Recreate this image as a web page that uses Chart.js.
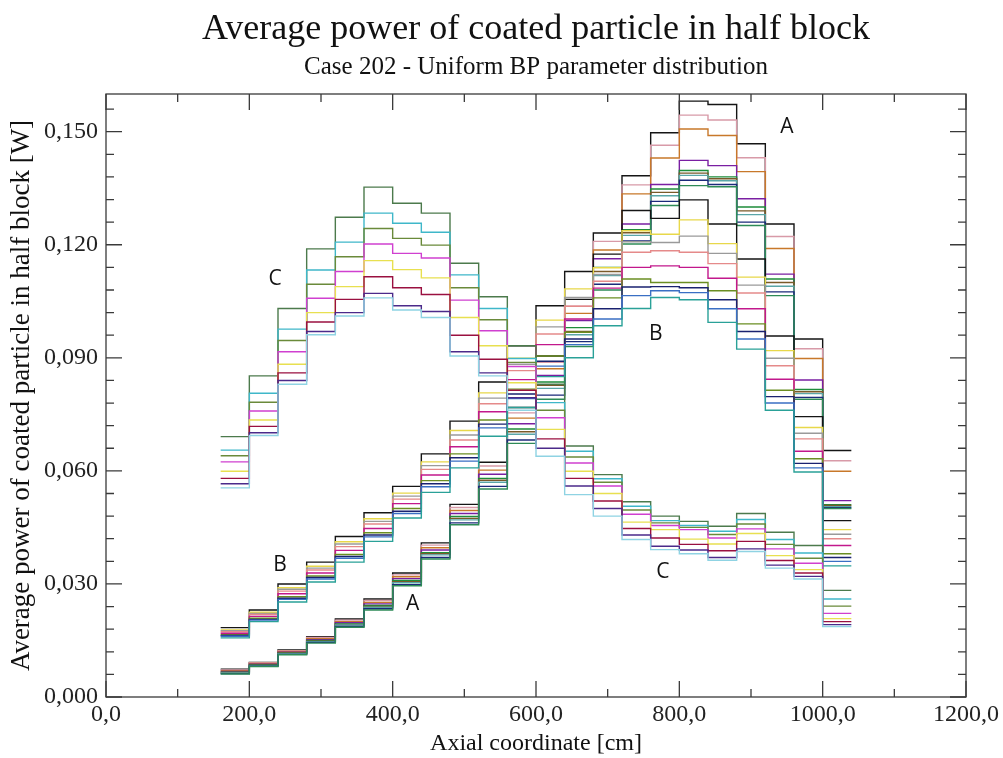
<!DOCTYPE html>
<html>
<head>
<meta charset="utf-8">
<title>Average power of coated particle in half block</title>
<script src="https://cdn.jsdelivr.net/npm/chart.js@4.4.1/dist/chart.umd.min.js"></script>
<style>
  html, body { margin: 0; padding: 0; background: #fff; }
  #wrap { width: 1003px; height: 758px; }
</style>
</head>
<body>
<div id="wrap"><canvas id="chart" width="1003" height="758"></canvas></div>
<script>
// axial bins [cm], 40 cm wide, last one closes at binEnd
var binStart = [160, 200, 240, 280, 320, 360, 400, 440, 480, 520, 560, 600, 640, 680, 720, 760, 800, 840, 880, 920, 960, 1000];
var binEnd = 1040;

// group A - low at the bottom, peaks near 820 cm
var a1 = [0.0074, 0.0092, 0.0125, 0.0160, 0.0207, 0.0260, 0.0329, 0.0409, 0.0511, 0.0623, 0.0768, 0.0905, 0.1055, 0.1231, 0.1383, 0.1497, 0.1581, 0.1572, 0.1468, 0.1255, 0.0950, 0.0654];
var a8 = [0.0072, 0.0091, 0.0123, 0.0158, 0.0204, 0.0256, 0.0324, 0.0403, 0.0503, 0.0613, 0.0754, 0.0888, 0.1037, 0.1209, 0.1359, 0.1464, 0.1544, 0.1531, 0.1431, 0.1222, 0.0924, 0.0627];
var a2 = [0.0070, 0.0089, 0.0121, 0.0155, 0.0200, 0.0251, 0.0319, 0.0396, 0.0495, 0.0602, 0.0740, 0.0871, 0.1018, 0.1186, 0.1335, 0.1430, 0.1507, 0.1490, 0.1394, 0.1190, 0.0898, 0.0599];
var a3 = [0.0068, 0.0087, 0.0119, 0.0152, 0.0197, 0.0247, 0.0314, 0.0390, 0.0487, 0.0591, 0.0725, 0.0853, 0.0999, 0.1163, 0.1255, 0.1360, 0.1424, 0.1410, 0.1322, 0.1122, 0.0841, 0.0521];
var a4 = [0.0066, 0.0085, 0.0117, 0.0150, 0.0194, 0.0243, 0.0309, 0.0383, 0.0479, 0.0580, 0.0711, 0.0836, 0.0980, 0.1140, 0.1240, 0.1348, 0.1397, 0.1380, 0.1300, 0.1109, 0.0816, 0.0510];
var a9 = [0.0065, 0.0084, 0.0116, 0.0148, 0.0192, 0.0240, 0.0306, 0.0380, 0.0474, 0.0575, 0.0704, 0.0827, 0.0970, 0.1129, 0.1232, 0.1339, 0.1390, 0.1375, 0.1290, 0.1100, 0.0810, 0.0508];
var a5 = [0.0064, 0.0083, 0.0115, 0.0147, 0.0191, 0.0238, 0.0303, 0.0377, 0.0470, 0.0570, 0.0697, 0.0819, 0.0961, 0.1118, 0.1225, 0.1330, 0.1384, 0.1370, 0.1280, 0.1090, 0.0805, 0.0505];
var a6 = [0.0062, 0.0082, 0.0113, 0.0145, 0.0187, 0.0234, 0.0298, 0.0370, 0.0462, 0.0559, 0.0682, 0.0801, 0.0943, 0.1095, 0.1210, 0.1315, 0.1371, 0.1360, 0.1260, 0.1075, 0.0795, 0.0502];
var a7 = [0.0061, 0.0081, 0.0112, 0.0143, 0.0185, 0.0231, 0.0295, 0.0366, 0.0457, 0.0552, 0.0673, 0.0790, 0.0930, 0.1080, 0.1202, 0.1304, 0.1357, 0.1354, 0.1251, 0.1065, 0.0790, 0.0500];

// group B - middle start, flatter peak
var b1 = [0.0184, 0.0231, 0.0300, 0.0358, 0.0426, 0.0489, 0.0559, 0.0645, 0.0732, 0.0836, 0.0932, 0.1038, 0.1129, 0.1175, 0.1291, 0.1270, 0.1319, 0.1255, 0.1162, 0.0958, 0.0744, 0.0468];
var b2 = [0.0178, 0.0225, 0.0290, 0.0347, 0.0412, 0.0473, 0.0541, 0.0624, 0.0707, 0.0807, 0.0899, 0.1000, 0.1083, 0.1139, 0.1237, 0.1228, 0.1266, 0.1203, 0.1114, 0.0919, 0.0715, 0.0444];
var b8 = [0.0176, 0.0222, 0.0286, 0.0342, 0.0406, 0.0466, 0.0533, 0.0614, 0.0695, 0.0793, 0.0883, 0.0982, 0.1060, 0.1121, 0.1208, 0.1206, 0.1223, 0.1177, 0.1093, 0.0899, 0.0700, 0.0432];
var b3 = [0.0173, 0.0219, 0.0281, 0.0337, 0.0399, 0.0459, 0.0525, 0.0604, 0.0682, 0.0778, 0.0866, 0.0963, 0.1037, 0.1103, 0.1180, 0.1184, 0.1180, 0.1150, 0.1072, 0.0879, 0.0685, 0.0420];
var b4 = [0.0169, 0.0214, 0.0274, 0.0329, 0.0389, 0.0447, 0.0513, 0.0589, 0.0664, 0.0757, 0.0842, 0.0935, 0.1003, 0.1085, 0.1140, 0.1144, 0.1140, 0.1111, 0.1030, 0.0843, 0.0652, 0.0402];
var b5 = [0.0165, 0.0209, 0.0266, 0.0321, 0.0378, 0.0436, 0.0500, 0.0574, 0.0645, 0.0735, 0.0817, 0.0905, 0.0968, 0.1059, 0.1109, 0.1100, 0.1100, 0.1078, 0.0990, 0.0814, 0.0632, 0.0380];
var b9 = [0.0163, 0.0206, 0.0262, 0.0317, 0.0373, 0.0430, 0.0493, 0.0566, 0.0635, 0.0724, 0.0804, 0.0891, 0.0950, 0.1030, 0.1088, 0.1089, 0.1086, 0.1054, 0.0970, 0.0797, 0.0620, 0.0370];
var b6 = [0.0161, 0.0204, 0.0259, 0.0313, 0.0368, 0.0425, 0.0487, 0.0558, 0.0626, 0.0714, 0.0792, 0.0878, 0.0935, 0.1003, 0.1065, 0.1078, 0.1073, 0.1030, 0.0950, 0.0780, 0.0608, 0.0360];
var b7 = [0.0157, 0.0200, 0.0252, 0.0305, 0.0358, 0.0413, 0.0475, 0.0543, 0.0608, 0.0692, 0.0768, 0.0850, 0.0900, 0.0985, 0.1031, 0.1060, 0.1054, 0.0994, 0.0923, 0.0761, 0.0597, 0.0348];

// group C - peaks near 380 cm, falls off to the right
var c1 = [0.0691, 0.0852, 0.1031, 0.1189, 0.1273, 0.1353, 0.1310, 0.1284, 0.1151, 0.1062, 0.0932, 0.0830, 0.0666, 0.0590, 0.0518, 0.0480, 0.0466, 0.0453, 0.0487, 0.0437, 0.0402, 0.0283];
var c2 = [0.0655, 0.0806, 0.0976, 0.1133, 0.1207, 0.1284, 0.1257, 0.1233, 0.1120, 0.1031, 0.0898, 0.0781, 0.0652, 0.0579, 0.0506, 0.0468, 0.0455, 0.0440, 0.0471, 0.0418, 0.0382, 0.0260];
var c7 = [0.0640, 0.0782, 0.0946, 0.1095, 0.1168, 0.1243, 0.1217, 0.1199, 0.1086, 0.1001, 0.0888, 0.0761, 0.0637, 0.0570, 0.0496, 0.0462, 0.0450, 0.0431, 0.0459, 0.0405, 0.0368, 0.0241];
var c3 = [0.0624, 0.0759, 0.0916, 0.1058, 0.1129, 0.1202, 0.1177, 0.1165, 0.1053, 0.0972, 0.0877, 0.0741, 0.0621, 0.0560, 0.0485, 0.0455, 0.0444, 0.0422, 0.0446, 0.0393, 0.0355, 0.0222];
var c4 = [0.0599, 0.0735, 0.0883, 0.1020, 0.1089, 0.1158, 0.1134, 0.1112, 0.1007, 0.0932, 0.0834, 0.0710, 0.0599, 0.0540, 0.0464, 0.0444, 0.0419, 0.0406, 0.0434, 0.0375, 0.0338, 0.0208];
var c8 = [0.0580, 0.0718, 0.0860, 0.0995, 0.1055, 0.1115, 0.1086, 0.1068, 0.0960, 0.0896, 0.0814, 0.0685, 0.0580, 0.0520, 0.0447, 0.0422, 0.0405, 0.0388, 0.0413, 0.0362, 0.0329, 0.0200];
var c5 = [0.0566, 0.0701, 0.0840, 0.0970, 0.1020, 0.1071, 0.1038, 0.1023, 0.0916, 0.0860, 0.0794, 0.0660, 0.0560, 0.0500, 0.0430, 0.0400, 0.0390, 0.0370, 0.0393, 0.0350, 0.0320, 0.0192];
var c6 = [0.0555, 0.0694, 0.0830, 0.0961, 0.1011, 0.1059, 0.1027, 0.1007, 0.0905, 0.0852, 0.0761, 0.0639, 0.0537, 0.0480, 0.0418, 0.0391, 0.0380, 0.0363, 0.0386, 0.0342, 0.0313, 0.0187];

// axis ticks
var xTicks = [0, 200, 400, 600, 800, 1000, 1200];
var xMinor = [100, 300, 500, 700, 900, 1100];
var yTicks = [0, 0.03, 0.06, 0.09, 0.12, 0.15];
var yMinor = [0.006, 0.012, 0.018, 0.024, 0.036, 0.042, 0.048, 0.054, 0.066, 0.072, 0.078, 0.084,
  0.096, 0.102, 0.108, 0.114, 0.126, 0.132, 0.138, 0.144, 0.156];

// group letters, in axis units
var groupLabels = [
  { text: 'A', x: 950, y: 0.1513 }, { text: 'A', x: 428, y: 0.0247 },
  { text: 'B', x: 767, y: 0.0963 }, { text: 'B', x: 243, y: 0.0351 },
  { text: 'C', x: 236, y: 0.1109 }, { text: 'C', x: 777, y: 0.0332 }
];

var series = [
  { v: c6, color: '#8fd3e3' }, { v: c5, color: '#4b2a8a' }, { v: c8, color: '#9a1040' },
  { v: c4, color: '#e8e050' }, { v: c3, color: '#d040d0' }, { v: c7, color: '#6a8a3a' },
  { v: c2, color: '#3fb7c9' }, { v: c1, color: '#4c7a4c' },
  { v: b7, color: '#2aa198' }, { v: b6, color: '#3a6fc4' }, { v: b9, color: '#1a2270' },
  { v: b5, color: '#6b8e23' }, { v: b4, color: '#c2188c' }, { v: b3, color: '#e58a8a' },
  { v: b8, color: '#9a9a9a' }, { v: b2, color: '#e8d84a' }, { v: b1, color: '#151515' },
  { v: a7, color: '#2e8b57' }, { v: a6, color: '#1b2a7a' }, { v: a5, color: '#5aa6a8' },
  { v: a9, color: '#7a5a2a' }, { v: a4, color: '#1e8c3a' }, { v: a3, color: '#7a1fa2' },
  { v: a2, color: '#c8782a' }, { v: a8, color: '#d89aa8' }, { v: a1, color: '#151515' }
];

function steps(vals) {
  var pts = binStart.map(function(x, i) { return { x: x, y: vals[i] }; });
  pts.push({ x: binEnd, y: vals[vals.length - 1] });
  return pts;
}

function comma(v, digits) {
  return v.toFixed(digits).replace('.', ',');
}

var serif = '"Liberation Serif", "DejaVu Serif", serif';

var decorations = {
  id: 'decorations',
  afterDraw: function(chart) {
    var ctx = chart.ctx;
    var area = chart.chartArea;
    var xs = chart.scales.x;
    var ys = chart.scales.y;
    ctx.save();

    // frame
    ctx.strokeStyle = '#3a3a3a';
    ctx.lineWidth = 1.3;
    ctx.strokeRect(area.left, area.top, area.right - area.left, area.bottom - area.top);

    // inward ticks on all four sides
    function xTick(v, len) {
      var px = xs.getPixelForValue(v);
      ctx.moveTo(px, area.bottom); ctx.lineTo(px, area.bottom - len);
      ctx.moveTo(px, area.top); ctx.lineTo(px, area.top + len);
    }
    function yTick(v, len) {
      var py = ys.getPixelForValue(v);
      ctx.moveTo(area.left, py); ctx.lineTo(area.left + len, py);
      ctx.moveTo(area.right, py); ctx.lineTo(area.right - len, py);
    }
    ctx.beginPath();
    xTicks.forEach(function(v) { xTick(v, 16); });
    xMinor.forEach(function(v) { xTick(v, 8); });
    yTicks.forEach(function(v) { yTick(v, 16); });
    yMinor.forEach(function(v) { yTick(v, 8); });
    ctx.stroke();

    // group letters
    ctx.fillStyle = '#111';
    ctx.font = '21px "Open Sans", "Noto Sans", sans-serif';
    ctx.textAlign = 'center';
    ctx.textBaseline = 'middle';
    groupLabels.forEach(function(l) {
      ctx.fillText(l.text, xs.getPixelForValue(l.x), ys.getPixelForValue(l.y));
    });

    // titles
    var cx = (area.left + area.right) / 2;
    ctx.fillStyle = '#111';
    ctx.font = '36px ' + serif;
    ctx.fillText('Average power of coated particle in half block', cx, 30);
    ctx.font = '25px ' + serif;
    ctx.fillText('Case 202 - Uniform BP parameter distribution', cx, 67);
    ctx.font = '24px ' + serif;
    ctx.fillText('Axial coordinate [cm]', cx, 744);

    ctx.translate(22, (area.top + area.bottom) / 2);
    ctx.rotate(-Math.PI / 2);
    ctx.font = '27px ' + serif;
    ctx.fillText('Average power of coated particle in half block [W]', 0, 0);
    ctx.restore();
  }
};

var chart = new Chart(document.getElementById('chart'), {
  type: 'line',
  data: {
    datasets: series.map(function(s) {
      return {
        data: steps(s.v),
        borderColor: s.color,
        borderWidth: 1.4,
        stepped: true,
        pointRadius: 0,
        fill: false
      };
    })
  },
  options: {
    responsive: false,
    animation: false,
    layout: { padding: { left: 0, right: 37, top: 94, bottom: 0 } },
    plugins: { legend: { display: false }, tooltip: { enabled: false } },
    scales: {
      x: {
        type: 'linear',
        min: 0,
        max: 1200,
        afterBuildTicks: function(s) { s.ticks = xTicks.map(function(v) { return { value: v }; }); },
        afterFit: function(s) { s.height = 61; },
        grid: { display: false, drawTicks: false },
        border: { display: false },
        ticks: {
          autoSkip: false,
          maxRotation: 0,
          padding: 3,
          color: '#222',
          font: { family: serif, size: 24 },
          callback: function(v) { return comma(v, 1); }
        }
      },
      y: {
        min: 0,
        max: 0.16,
        afterBuildTicks: function(s) { s.ticks = yTicks.map(function(v) { return { value: v }; }); },
        afterFit: function(s) { s.width = 106; },
        grid: { display: false, drawTicks: false },
        border: { display: false },
        ticks: {
          padding: 8,
          color: '#222',
          font: { family: serif, size: 24 },
          callback: function(v) { return comma(v, 3); }
        }
      }
    }
  },
  plugins: [decorations]
});
</script>
</body>
</html>
